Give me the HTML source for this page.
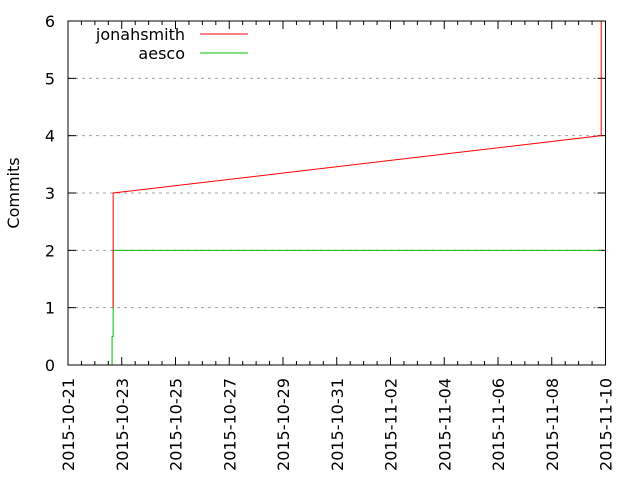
<!DOCTYPE html>
<html><head><meta charset="utf-8"><style>
body{margin:0;background:#fff}
svg{font-family:"DejaVu Sans",sans-serif;font-size:16px}
</style></head><body>
<svg id="c" width="640" height="480"></svg>
<script>
const tickLabels=["2015-10-21","2015-10-23","2015-10-25","2015-10-27","2015-10-29","2015-10-31","2015-11-02","2015-11-04","2015-11-06","2015-11-08","2015-11-10"];
const yTicks=[0,1,2,3,4,5,6];
const seriesNames=["jonahsmith","aesco"];
const jonahDays=[1.68,1.68,19.84,19.84];
const jonahVals=[1,3,4,6];
const aescoDays=[1.64,1.64,1.68,1.68,19.84];
const aescoVals=[0,0.5,0.5,2,2];
const NS="http://www.w3.org/2000/svg";
const svg=document.getElementById('c');
const L=68,R=605.5,T=21,B=365;
const xs=d=>L+(R-L)*d/20;
const ys=v=>B-(B-T)*v/6;
function el(t,a,p){const e=document.createElementNS(NS,t);for(const k in a)e.setAttribute(k,a[k]);(p||svg).appendChild(e);return e;}
yTicks.forEach(v=>{
 if(v>0&&v<6){const g=el('line',{x1:L,x2:R,y1:ys(v),y2:ys(v),stroke:'#a0a0a0','stroke-dasharray':'3,4'});
 
 }
 el('line',{x1:L,x2:L+8,y1:ys(v),y2:ys(v),stroke:'#000'});
 el('line',{x1:R,x2:R-8,y1:ys(v),y2:ys(v),stroke:'#000'});
 const t=el('text',{x:L-13,y:ys(v)+6,'text-anchor':'end'});t.textContent=v;
 
 
});
for(let h=0;h<=40;h++){const d=h/2,len=h%4==0?8:4;
 el('line',{x1:xs(d),x2:xs(d),y1:B,y2:B-len,stroke:'#000'});
 el('line',{x1:xs(d),x2:xs(d),y1:T,y2:T+len,stroke:'#000'});}
tickLabels.forEach((s,i)=>{const x=xs(i*2);
 const t=el('text',{x:0,y:0,'text-anchor':'end',transform:`translate(${x+6},${B+13}) rotate(-90)`});t.textContent=s;
 
 });
function line(days,vals,col,name){const p=el('polyline',{points:days.map((d,i)=>xs(d)+','+ys(vals[i])).join(' '),fill:'none',stroke:col,'stroke-width':1});
 
 }
line(aescoDays,aescoVals,'#00c000','aesco-line');
line(jonahDays,jonahVals,'#ff0000','jonahsmith-line');
el('rect',{x:L,y:T,width:R-L,height:B-T,fill:'none',stroke:'#000'});
const yl=el('text',{x:0,y:0,'text-anchor':'middle',transform:'translate(19,193) rotate(-90)'});yl.textContent='Commits';


const cols=['#ff0000','#00c000'];
seriesNames.forEach((n,i)=>{const y=34+i*19;
 const t=el('text',{x:185,y:y+6,'text-anchor':'end'});t.textContent=n;
 
 
 el('line',{x1:200,x2:248,y1:y,y2:y,stroke:cols[i]});});
</script>
</body></html>
